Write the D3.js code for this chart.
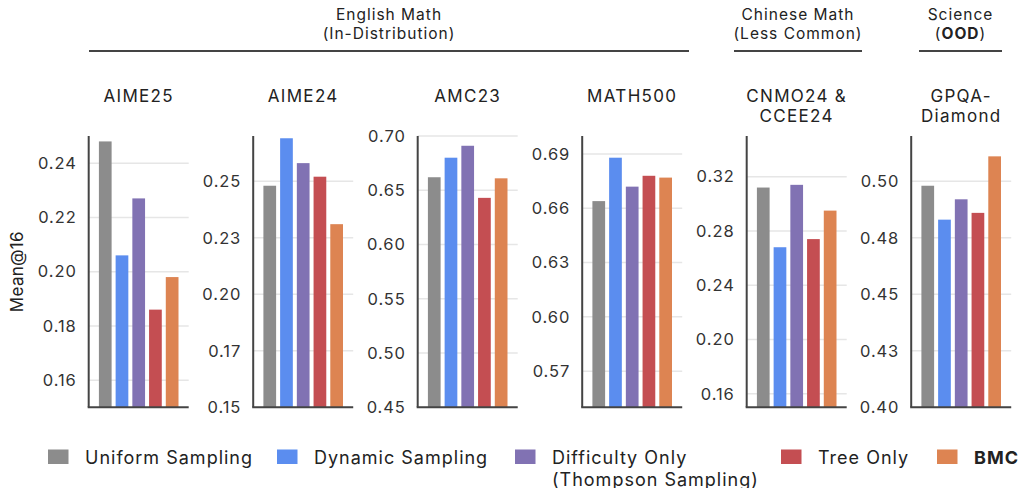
<!DOCTYPE html>
<html>
<head>
<meta charset="utf-8">
<script src="https://cdn.jsdelivr.net/npm/d3@7"></script>
<style>
  body { margin: 0; background: #fff; }
  svg { font-family: Inter, "Noto Sans", sans-serif; }
</style>
</head>
<body>
<div id="chart"></div>
<script>
var benchmarks = ["AIME25", "AIME24", "AMC23", "MATH500", "CNMO24 & CCEE24", "GPQA-Diamond"];
var titleLines = [["AIME25"], ["AIME24"], ["AMC23"], ["MATH500"], ["CNMO24 &", "CCEE24"], ["GPQA-", "Diamond"]];
var methods = ["Uniform Sampling", "Dynamic Sampling", "Difficulty Only (Thompson Sampling)", "Tree Only", "BMC"];

var uniform    = [0.248, 0.248, 0.662, 0.664, 0.312, 0.498];
var dynamic    = [0.206, 0.269, 0.680, 0.688, 0.268, 0.483];
var difficulty = [0.227, 0.258, 0.691, 0.672, 0.314, 0.492];
var treeOnly   = [0.186, 0.252, 0.643, 0.678, 0.274, 0.486];
var bmc        = [0.198, 0.231, 0.661, 0.677, 0.295, 0.511];

var yDomains = [[0.15, 0.25], [0.15, 0.27], [0.45, 0.70], [0.55, 0.70], [0.15, 0.35], [0.40, 0.52]];
var yTicks = [
  [0.16, 0.18, 0.20, 0.22, 0.24],
  [0.15, 0.175, 0.20, 0.225, 0.25],
  [0.45, 0.50, 0.55, 0.60, 0.65, 0.70],
  [0.57, 0.60, 0.63, 0.66, 0.69],
  [0.16, 0.20, 0.24, 0.28, 0.32],
  [0.40, 0.425, 0.45, 0.475, 0.50]
];
var yTickLabels = [
  ["0.16", "0.18", "0.20", "0.22", "0.24"],
  ["0.15", "0.17", "0.20", "0.23", "0.25"],
  ["0.45", "0.50", "0.55", "0.60", "0.65", "0.70"],
  ["0.57", "0.60", "0.63", "0.66", "0.69"],
  ["0.16", "0.20", "0.24", "0.28", "0.32"],
  ["0.40", "0.43", "0.45", "0.48", "0.50"]
];

var colors = ["#8c8c8c", "#5b8def", "#8172b3", "#c44e52", "#dd8452"];

var svgWidth = 1024;
var svgHeight = 488;
var plotTop = 136;
var plotBottom = 407.3;
var panelWidth = 100;
var panelStart = 88.7;
var panelStep = 164.5;

var series = [uniform, dynamic, difficulty, treeOnly, bmc];

var svg = d3.select("#chart")
  .append("svg")
  .attr("width", svgWidth)
  .attr("height", svgHeight);

var xBand = d3.scaleBand()
  .domain(d3.range(methods.length))
  .range([0, panelWidth])
  .paddingInner(0.24)
  .paddingOuter(0.61);

benchmarks.forEach(function(name, i) {
  var g = svg.append("g")
    .attr("transform", `translate(${panelStart + i * panelStep}, 0)`);

  var y = d3.scaleLinear()
    .domain(yDomains[i])
    .range([plotBottom, plotTop]);

  // grid
  g.selectAll(".grid")
    .data(yTicks[i])
    .enter()
    .append("line")
    .attr("x1", 0)
    .attr("x2", panelWidth)
    .attr("y1", d => y(d))
    .attr("y2", d => y(d))
    .attr("stroke", "#e6e6e6")
    .attr("stroke-width", 1.5);

  var rows = series.map((s, k) => ({ k: k, v: s[i] }));

  g.selectAll(".bar")
    .data(rows)
    .enter()
    .append("rect")
    .attr("x", d => xBand(d.k))
    .attr("width", xBand.bandwidth())
    .attr("y", d => y(d.v))
    .attr("height", d => plotBottom - y(d.v))
    .attr("fill", d => colors[d.k]);

  var labels = yTickLabels[i];
  var yAxis = d3.axisLeft(y)
    .tickValues(yTicks[i])
    .tickSize(0)
    .tickPadding(12)
    .tickFormat((d, j) => labels[j]);

  var ax = g.append("g").call(yAxis);
  ax.select(".domain").remove();
  ax.selectAll("text")
    .attr("font-size", "16.5px")
    .attr("letter-spacing", "0.9px")
    .attr("fill", "#333")
    .attr("font-family", "Inter, sans-serif");

  // spines
  g.append("line")
    .attr("x1", 0).attr("x2", 0)
    .attr("y1", plotTop).attr("y2", plotBottom)
    .attr("stroke", "#444").attr("stroke-width", 2);
  g.append("line")
    .attr("x1", -1).attr("x2", panelWidth)
    .attr("y1", plotBottom).attr("y2", plotBottom)
    .attr("stroke", "#444").attr("stroke-width", 2);

  // title
  var t = g.append("text")
    .attr("x", panelWidth / 2)
    .attr("y", 101.5)
    .attr("text-anchor", "middle")
    .attr("font-size", "17px")
    .attr("letter-spacing", "1.3px")
    .attr("fill", "#222");
  titleLines[i].forEach(function(line, j) {
    t.append("tspan")
      .attr("x", panelWidth / 2)
      .attr("dy", j === 0 ? 0 : 20)
      .text(line);
  });
});

// group headers
var groups = [
  { l1: "English Math", l2: ["(In-Distribution)"], x1: 89, x2: 689 },
  { l1: "Chinese Math", l2: ["(Less Common)"], x1: 734, x2: 862 },
  { l1: "Science", l2: ["(", "OOD", ")"], x1: 919, x2: 1002 }
];

groups.forEach(function(gr) {
  var cx = (gr.x1 + gr.x2) / 2;
  svg.append("text")
    .attr("x", cx).attr("y", 19.5)
    .attr("text-anchor", "middle")
    .attr("font-size", "15.5px")
    .attr("letter-spacing", "1px")
    .attr("fill", "#222")
    .text(gr.l1);
  var t2 = svg.append("text")
    .attr("x", cx).attr("y", 38.5)
    .attr("text-anchor", "middle")
    .attr("font-size", "15.5px")
    .attr("letter-spacing", "1px")
    .attr("fill", "#222");
  gr.l2.forEach(function(part) {
    t2.append("tspan")
      .attr("font-weight", part === "OOD" ? "bold" : "normal")
      .text(part);
  });
  svg.append("line")
    .attr("x1", gr.x1).attr("x2", gr.x2)
    .attr("y1", 51).attr("y2", 51)
    .attr("stroke", "#444").attr("stroke-width", 2);
});

// y label
svg.append("text")
  .attr("transform", `translate(23, ${(plotTop + plotBottom) / 2}) rotate(-90)`)
  .attr("text-anchor", "middle")
  .attr("font-size", "17px")
  .attr("letter-spacing", "0.3px")
  .attr("fill", "#222")
  .text("Mean@16");

// legend
var legendX = [48, 277, 515, 781, 937];
var legendLines = [["Uniform Sampling"], ["Dynamic Sampling"], ["Difficulty Only", "(Thompson Sampling)"], ["Tree Only"], ["BMC"]];

methods.forEach(function(m, k) {
  var lg = svg.append("g").attr("transform", `translate(${legendX[k]}, 0)`);
  lg.append("rect")
    .attr("x", 0).attr("y", 449.5)
    .attr("width", 20.5).attr("height", 14.5)
    .attr("fill", colors[k]);
  var t = lg.append("text")
    .attr("x", 37).attr("y", 463.5)
    .attr("font-size", "18px")
    .attr("letter-spacing", "1px")
    .attr("fill", "#222")
    .attr("font-weight", m === "BMC" ? "bold" : "normal");
  legendLines[k].forEach(function(line, j) {
    t.append("tspan")
      .attr("x", 37)
      .attr("dy", j === 0 ? 0 : 22)
      .text(line);
  });
});
</script>
</body>
</html>
